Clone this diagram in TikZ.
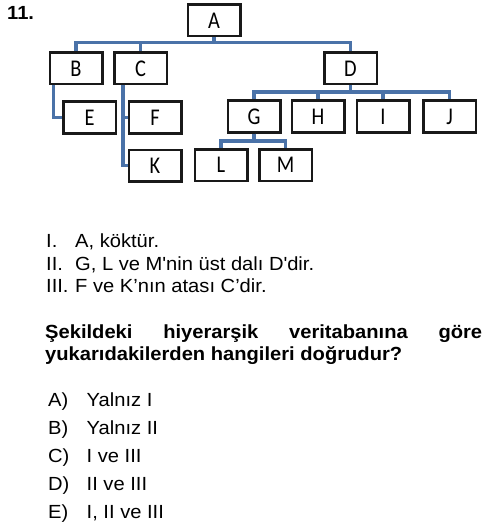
\documentclass[tikz,border=0pt]{standalone}
\usepackage{fontspec}
\setmainfont{Liberation Sans}[FakeStretch=1.06]
\newfontfamily\treefont{Carlito}[FakeStretch=0.85]
\begin{document}
\begin{tikzpicture}[x=1pt,y=-1pt,
	box/.style={draw=black!90,line width=2.5pt,fill=white,minimum width=52.5pt,minimum height=31.5pt,inner sep=0pt,font=\treefont\fontsize{24}{24}\selectfont},
	bus/.style={draw={rgb,255:red,74;green,114;blue,168},line width=3.5pt},
	txt/.style={anchor=base west,inner sep=0pt,font=\fontsize{19}{23}\selectfont}]
		\useasboundingbox (0,0) rectangle (500,524);
		\node[box] (A) at (214,20.5) {A};
		\node[box] (B) at (76,68.5) {B};
		\node[box] (C) at (140.5,68.5) {C};
		\node[box] (D) at (350.5,68.5) {D};
		\node[box] (E) at (89.5,117.5) {E};
		\node[box] (F) at (155,117.5) {F};
		\node[box] (K) at (155,165.5) {K};
		\node[box] (G) at (254,116.5) {G};
		\node[box] (H) at (318,116.5) {H};
		\node[box] (I) at (383,116.5) {I};
		\node[box] (J) at (449.5,116.5) {J};
		\node[box] (L) at (221,165) {L};
		\node[box] (M) at (285.5,165) {M};
		\foreach \c in {B,C,D}
			\draw[bus] (A.south) -- ++(0,5) -| (\c.north);
		\foreach \c in {G,H,I,J}
			\draw[bus] (D.south) -- ++(0,6.5) -| (\c.north);
		\foreach \c in {L,M}
			\draw[bus] (G.south) -- ++(0,7.5) -| (\c.north);
		\draw[bus] ([xshift=5pt]B.south west) |- (E.west);
		\draw[bus] ([xshift=10pt]C.south west) |- (F.west);
		\draw[bus] ([xshift=10pt]C.south west) |- (K.west);
		\node[txt,font=\fontsize{19}{23}\selectfont\bfseries] (num) at (7,20) {11.};
		\node[txt] (r1) at (46,247.5) {I.};
		\node[txt] (s1) at (75,247.5) {A, köktür.};
		\node[txt] (r2) at (46,270) {II.};
		\node[txt] (s2) at (75,270) {G, L ve M\textquotesingle nin üst dalı D\textquotesingle dir.};
		\node[txt] (r3) at (46,292.5) {III.};
		\node[txt] (s3) at (75,292.5) {F ve K’nın atası C’dir.};
		\node[txt,font=\fontsize{19}{23}\selectfont\bfseries] (q1) at (45,338) {\makebox[437pt][s]{Şekildeki hiyerarşik veritabanına göre}};
		\node[txt,font=\fontsize{19}{23}\selectfont\bfseries] (q2) at (45,360) {yukarıdakilerden hangileri doğrudur?};
		\foreach \lbl/\ans [count=\i from 0] in {A/Yalnız I,B/Yalnız II,C/I ve III,D/II ve III,E/{I, II ve III}} {
			\node[txt] (o\lbl) at (48,406+28.1*\i) {\lbl)};
			\node[txt] (a\lbl) at (86.5,406+28.1*\i) {\ans};
		}
	\end{tikzpicture}
\end{document}
